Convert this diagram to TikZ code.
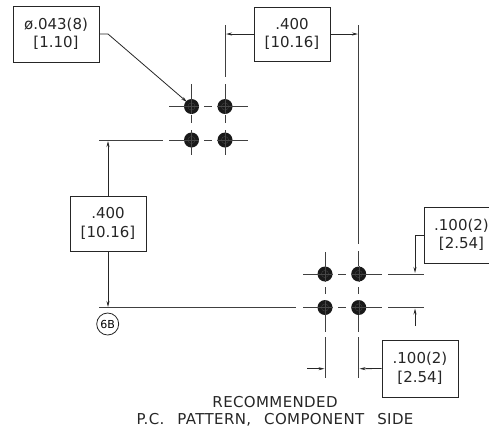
\documentclass[tikz,border=0pt]{standalone}
\usepackage{fontspec}
\setmainfont{DejaVu Sans}
\usetikzlibrary{arrows.meta}
\tikzset{
  x=1pt,y=-1pt,
  dimtext/.style={align=center,text=black!85,font=\fontsize{15}{18.5}\selectfont},
  dimbox/.style={draw=black!85,line width=0.9pt,fill=white,inner sep=0pt,dimtext},
  hole/.style={circle,fill=black!90,draw=none,minimum size=15pt,inner sep=0pt},
  cl/.style={black!75,line width=0.9pt},
  hair/.style={black!72,line width=0.3pt},
  dim/.style={black!85,line width=0.8pt,-{Stealth[length=6pt,width=3pt]}},
  caption/.style={font=\fontsize{15}{16.8}\selectfont\addfontfeature{LetterSpace=2.5},text=black!85,align=center,inner sep=0pt}
}
\begin{document}
\begin{tikzpicture}
\useasboundingbox (0,0) rectangle (489,432);
% holes
\node[hole] (a) at (191.5,106.5) {};
\node[hole] (b) at (225,106.5) {};
\node[hole] (c) at (191.5,140) {};
\node[hole] (d) at (225,140) {};
\node[hole] (e) at (325,274) {};
\node[hole] (f) at (358.7,274) {};
\node[hole] (g) at (325,307.5) {};
\node[hole] (h) at (358.7,307.5) {};
\foreach \n in {a,b,c,d,e,f,g,h}{
  \draw[hair] (\n.north) -- (\n.south) (\n.west) -- (\n.east);
  \draw[hair] (\n.center) circle (3.6pt);
}
% centre lines, upper group
\draw[cl] (169,106.5) -- (a.west) (204,106.5) -- (212,106.5) (b.east) -- (248,106.5);
\draw[cl] (99,140) -- (163,140) (169,140) -- (c.west) (204,140) -- (212,140) (d.east) -- (248,140);
\draw[cl] (191.5,84) -- (a.north) (191.5,115) -- (191.5,123) (c.south) -- (191.5,155) (191.5,130) -- (c.north);
\draw[cl] (225,25) -- (225,77) (225,84) -- (b.north) (225,115) -- (225,123) (d.south) -- (225,155) (225,130) -- (d.north);
% centre lines, lower group
\draw[cl] (303,274) -- (e.west) (338,274) -- (346,274) (f.east) -- (382,274) (388,274) -- (424,274);
\draw[cl] (99,307.5) -- (296,307.5) (303,307.5) -- (g.west) (338,307.5) -- (346,307.5) (h.east) -- (382,307.5) (388,307.5) -- (424,307.5);
\draw[cl] (325,252) -- (e.north) (325,287) -- (325,294) (325,300) -- (g.north) (g.south) -- (325,332) (325,337) -- (325,378);
\draw[cl] (358.7,25) -- (358.7,244) (358.7,251) -- (f.north) (358.7,287) -- (358.7,294) (358.7,300) -- (h.north) (h.south) -- (358.7,332) (358.7,337) -- (358.7,378);
% boxes
\node[dimbox,minimum width=86pt,minimum height=56pt] (b1) at (56,34) {ø.043(8)\\{}[1.10]};
\node[dimbox,minimum width=76pt,minimum height=54pt] (b2) at (292,34) {.400\\{}[10.16]};
\node[dimbox,minimum width=76pt,minimum height=55pt] (b3) at (108,223.5) {.400\\{}[10.16]};
\node[dimbox,minimum width=76pt,minimum height=57pt] (b4) at (420,368.5) {.100(2)\\{}[2.54]};
% box cut by the right edge
\draw[draw=black!85,line width=0.9pt] (489,207) -- (424,207) -- (424,263) -- (489,263);
\node[dimtext,inner sep=0pt] (b5) at (461.5,235) {.100(2)\\{}[2.54]};
\coordinate (l1) at (108,34);
\draw[dim] (b1.east) -- (l1) -- (187,102);
\draw[dim] (b2.west) -- (226,34);
\draw[dim] (b2.east) -- (358,34);
\draw[dim] (b3.north) -- (108,141);
\draw[dim] (b3.south) -- (108,307);
\draw[dim] (424,235) -- (415,235) -- (415,273);
\coordinate (u1) at (415,326);
\draw[dim] (u1) -- (415,308.5);
\coordinate (u2) at (307,368.7);
\draw[dim] (u2) -- (324.5,368.7);
\draw[dim] (b4.west) -- (359.5,368.7);
% datum
\node[circle,draw=black!85,line width=0.8pt,minimum size=22pt,inner sep=0pt,font=\fontsize{11}{12}\selectfont] (dt) at (107.7,324) {6B};
% caption
\node[caption] (cap) at (275,411.5) {RECOMMENDED\\P.C.\hspace{13pt}PATTERN,\hspace{13pt}COMPONENT\hspace{13pt}SIDE};
\end{tikzpicture}
\end{document}
